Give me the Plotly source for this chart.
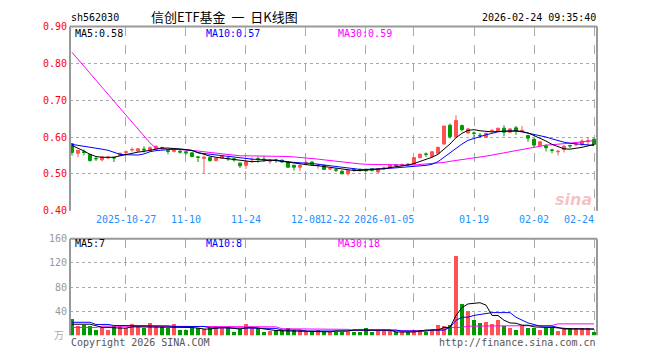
import plotly.graph_objects as go

# ---------------- data ----------------
opens = [0.582,0.556,0.560,0.552,0.542,0.538,0.543,0.545,0.550,0.558,
         0.565,0.562,0.567,0.562,0.568,0.571,0.563,0.561,0.561,0.560,
         0.557,0.546,0.542,0.544,0.536,0.543,0.543,0.541,0.529,0.523,
         0.538,0.541,0.540,0.534,0.538,0.537,0.532,0.523,0.518,0.529,
         0.532,0.522,0.523,0.513,0.511,0.507,0.500,0.512,0.511,0.512,
         0.514,0.505,0.514,0.518,0.524,0.524,0.526,0.526,0.544,0.554,
         0.547,0.556,0.581,0.632,0.601,0.631,0.611,0.611,0.605,0.599,
         0.617,0.615,0.624,0.613,0.625,0.617,0.604,0.594,0.576,0.576,
         0.565,0.560,0.566,0.577,0.579,0.580,0.589,0.594]
highs = [0.584,0.565,0.566,0.555,0.546,0.547,0.548,0.547,0.557,0.563,
         0.572,0.570,0.575,0.575,0.577,0.574,0.566,0.567,0.565,0.562,
         0.559,0.548,0.549,0.546,0.543,0.551,0.548,0.544,0.532,0.535,
         0.545,0.547,0.549,0.540,0.541,0.539,0.533,0.525,0.526,0.536,
         0.534,0.528,0.525,0.517,0.515,0.510,0.510,0.515,0.515,0.514,
         0.516,0.516,0.520,0.525,0.527,0.528,0.529,0.545,0.556,0.558,
         0.562,0.574,0.630,0.636,0.659,0.634,0.625,0.615,0.611,0.612,
         0.621,0.625,0.632,0.624,0.630,0.630,0.606,0.596,0.589,0.580,
         0.568,0.565,0.578,0.579,0.584,0.594,0.600,0.597]
lows = [0.550,0.545,0.550,0.533,0.535,0.534,0.540,0.532,0.548,0.553,
        0.560,0.560,0.558,0.560,0.566,0.565,0.553,0.558,0.555,0.552,
        0.545,0.532,0.500,0.533,0.534,0.541,0.535,0.533,0.516,0.513,
        0.530,0.530,0.532,0.527,0.530,0.530,0.516,0.509,0.508,0.523,
        0.523,0.514,0.510,0.510,0.505,0.500,0.495,0.506,0.506,0.507,
        0.506,0.503,0.510,0.515,0.518,0.519,0.521,0.524,0.542,0.546,
        0.545,0.554,0.579,0.596,0.600,0.615,0.609,0.600,0.597,0.598,
        0.612,0.614,0.602,0.612,0.606,0.613,0.587,0.570,0.575,0.561,
        0.556,0.550,0.558,0.570,0.575,0.575,0.575,0.578]
closes = [0.558,0.564,0.558,0.536,0.541,0.546,0.545,0.543,0.556,0.560,
          0.566,0.568,0.565,0.571,0.575,0.569,0.561,0.566,0.559,0.557,
          0.547,0.545,0.545,0.536,0.542,0.549,0.541,0.538,0.522,0.533,
          0.539,0.540,0.539,0.536,0.537,0.532,0.518,0.518,0.523,0.530,
          0.525,0.523,0.512,0.514,0.510,0.500,0.509,0.511,0.510,0.508,
          0.509,0.514,0.516,0.523,0.523,0.525,0.525,0.544,0.553,0.553,
          0.560,0.572,0.630,0.601,0.645,0.620,0.622,0.610,0.604,0.610,
          0.618,0.624,0.613,0.622,0.617,0.618,0.597,0.578,0.587,0.571,
          0.564,0.561,0.575,0.576,0.580,0.589,0.590,0.580]

ma5 = [0.577,0.570,0.562,0.553,0.547,0.545,0.544,0.545,0.549,0.553,
       0.556,0.559,0.561,0.564,0.568,0.570,0.570,0.569,0.568,0.566,
       0.563,0.558,0.551,0.548,0.545,0.543,0.541,0.539,0.536,0.534,
       0.533,0.534,0.536,0.537,0.536,0.534,0.531,0.528,0.526,0.524,
       0.523,0.522,0.520,0.518,0.515,0.512,0.510,0.509,0.509,0.510,
       0.511,0.512,0.514,0.517,0.519,0.521,0.524,0.528,0.533,0.538,
       0.545,0.553,0.566,0.581,0.598,0.610,0.618,0.620,0.617,0.615,
       0.614,0.615,0.616,0.616,0.617,0.615,0.611,0.604,0.597,0.589,
       0.580,0.573,0.568,0.567,0.569,0.572,0.576,0.580]
ma10 = [0.580,0.577,0.574,0.571,0.569,0.567,0.564,0.558,0.553,0.552,
        0.551,0.551,0.554,0.560,0.563,0.565,0.566,0.567,0.567,0.566,
        0.564,0.557,0.555,0.553,0.551,0.549,0.546,0.544,0.542,0.540,
        0.540,0.539,0.539,0.538,0.537,0.535,0.532,0.531,0.530,0.530,
        0.528,0.526,0.524,0.521,0.520,0.518,0.516,0.514,0.512,0.512,
        0.512,0.513,0.514,0.515,0.516,0.518,0.519,0.520,0.522,0.523,
        0.526,0.533,0.545,0.557,0.570,0.581,0.591,0.597,0.601,0.606,
        0.611,0.614,0.616,0.617,0.616,0.614,0.611,0.608,0.605,0.600,
        0.595,0.590,0.586,0.583,0.581,0.579,0.578,0.577]
ma30 = [0.830,0.811,0.792,0.773,0.755,0.736,0.717,0.698,0.679,0.660,
        0.641,0.622,0.603,0.584,0.570,0.568,0.567,0.567,0.566,0.566,
        0.565,0.562,0.560,0.558,0.556,0.555,0.553,0.551,0.549,0.549,
        0.549,0.548,0.548,0.547,0.547,0.547,0.547,0.546,0.545,0.543,
        0.541,0.540,0.538,0.536,0.534,0.532,0.530,0.528,0.527,0.526,
        0.525,0.525,0.525,0.525,0.524,0.524,0.524,0.524,0.525,0.526,
        0.527,0.529,0.531,0.534,0.536,0.538,0.541,0.543,0.545,0.548,
        0.551,0.554,0.557,0.560,0.563,0.566,0.569,0.572,0.575,0.578,
        0.579,0.580,0.582,0.584,0.585,0.587,0.589,0.590]

volume = [28.0,16.8,18.4,16.8,8.8,14.7,8.8,15.2,18.4,13.1,
          20.0,14.7,13.1,21.6,15.2,14.7,12.0,20.0,8.8,8.8,
          13.1,13.1,10.4,13.1,15.2,14.7,14.7,5.6,10.4,20.0,
          12.0,12.0,5.6,7.2,8.8,8.8,12.0,9.9,8.8,6.7,
          5.6,8.8,5.6,6.7,6.7,6.7,6.7,6.7,6.7,12.0,
          6.7,8.8,8.8,8.8,6.7,5.6,5.6,8.8,8.8,6.7,
          10.1,18.4,16.8,18.4,132.0,52.0,40.8,26.4,21.6,23.2,
          20.0,26.4,15.5,12.0,10.1,16.8,12.0,12.0,8.8,12.0,
          12.0,7.2,13.3,12.0,12.0,12.0,12.0,5.6]
vma5 = [18.4,18.4,18.4,18.4,16.0,13.1,13.1,12.0,12.0,12.0,
        14.0,14.0,14.0,14.0,14.0,14.0,14.0,14.0,14.0,14.0,
        13.0,12.0,10.4,10.4,12.0,13.0,12.5,11.0,10.4,12.5,
        13.1,12.0,10.5,9.5,8.0,7.5,7.2,7.2,7.2,7.0,
        7.0,6.5,6.0,5.8,7.2,7.2,7.2,8.8,8.8,8.8,
        8.8,8.8,8.8,8.8,5.6,5.6,5.6,5.6,7.0,8.8,
        8.8,8.8,13.1,13.1,32.8,46.0,52.0,53.0,54.0,50.0,
        33.0,32.8,25.0,20.5,20.0,16.8,16.8,14.0,13.1,13.1,
        13.1,12.0,10.9,10.9,10.9,10.6,10.4,10.4]
vma10 = [21.6,21.6,21.6,21.6,18.0,18.0,18.0,16.3,16.3,15.5,
         15.5,15.7,15.7,15.7,15.7,15.7,15.7,14.7,14.7,14.7,
         14.7,14.7,14.7,12.5,12.5,12.5,12.5,12.5,12.5,12.5,
         11.5,11.5,11.5,11.5,11.5,8.8,8.8,8.8,8.8,7.2,
         7.2,7.2,7.2,7.2,7.2,7.2,7.2,8.8,8.8,8.8,
         8.8,8.8,8.8,8.8,8.8,7.2,7.2,7.2,7.2,7.2,
         8.8,8.8,8.8,13.1,24.8,30.0,30.0,33.0,34.4,35.0,
         37.6,37.6,37.6,37.6,30.0,25.0,20.5,18.0,15.2,15.2,
         15.2,13.0,10.4,10.4,10.4,10.4,10.4,10.4]
vma30 = [13.1,13.1,13.1,13.1,13.1,15.2,15.2,15.2,15.2,15.2,
         15.2,15.2,15.2,15.2,15.2,15.2,15.2,15.2,15.2,15.2,
         15.2,15.2,15.2,15.2,14.1,14.1,14.1,14.1,14.1,14.1,
         14.1,14.1,14.1,14.1,14.1,10.9,10.9,10.9,10.9,10.9,
         10.9,9.9,9.9,9.9,9.9,9.9,9.9,8.3,8.3,8.3,
         8.3,8.3,8.3,8.3,8.3,7.2,7.2,7.2,7.2,7.2,
         8.8,8.8,8.8,13.1,13.1,13.1,15.2,15.2,15.2,15.2,
         15.2,16.3,16.3,16.3,16.3,16.3,16.3,16.3,16.3,16.3,
         16.3,19.0,19.0,19.0,19.0,19.0,19.0,19.0]

tick_idx = [9, 19, 29, 39, 49, 57, 67, 77, 87]
tick_lab = ["2025-10-27", "11-10", "11-24", "12-08", "12-22",
            "2026-01-05", "01-19", "02-02", "02-24"]
price_ticks = [0.40, 0.50, 0.60, 0.70, 0.80, 0.90]
vol_ticks = [40, 80, 120, 160]

title_code = "sh562030"
title_name = "信创ETF基金\u00a0\u00a0一\u00a0\u00a0日K线图"
title_time = "2026-02-24 09:35:40"
price_ma_labels = ["MA5:0.58", "MA10:0.57", "MA30:0.59"]
vol_ma_labels = ["MA5:7", "MA10:8", "MA30:18"]

# ---------------- styling ----------------
W, H = 660, 360
RED = "#FF5252"
GREEN = "#009A00"
GRID = "#AAAAAA"
FRAME = "#999999"
MONO = "DejaVu Sans Mono, Liberation Mono, monospace"
FS = 10

def px_x(p):
    return p / W

def px_y(p):
    return 1 - p / H

x0, x1 = px_x(70), px_x(597)
py_top, py_bot = px_y(21.3), px_y(211.7)
vy_top, vy_bot = px_y(240.7), px_y(340.7)

idx = list(range(len(closes)))
vol_colors = [RED if c >= o else GREEN for o, c in zip(opens, closes)]

fig = go.Figure()

fig.add_trace(go.Candlestick(
    x=idx, open=opens, high=highs, low=lows, close=closes,
    increasing=dict(line=dict(color=RED, width=1), fillcolor=RED),
    decreasing=dict(line=dict(color=GREEN, width=1), fillcolor=GREEN),
    whiskerwidth=0, xaxis="x", yaxis="y", showlegend=False,
    hoverinfo="skip"))

for arr, col in [(ma30, "#FF00FF"), (ma10, "#0000FF"), (ma5, "#000000")]:
    fig.add_trace(go.Scatter(x=idx, y=arr, mode="lines",
                             line=dict(color=col, width=1),
                             xaxis="x", yaxis="y", showlegend=False,
                             hoverinfo="skip"))

fig.add_trace(go.Bar(x=idx, y=volume, marker=dict(color=vol_colors, line=dict(width=0)),
                     width=0.8, xaxis="x2", yaxis="y2", showlegend=False,
                     hoverinfo="skip"))
for arr, col in [(vma30, "#FF00FF"), (vma10, "#0000FF"), (vma5, "#000000")]:
    fig.add_trace(go.Scatter(x=idx, y=arr, mode="lines",
                             line=dict(color=col, width=1),
                             xaxis="x2", yaxis="y2", showlegend=False,
                             hoverinfo="skip"))

xr = [-0.33, 87.5]
common_x = dict(range=xr, showgrid=True, gridcolor=GRID, griddash="dash",
                gridwidth=1, tickvals=tick_idx, showticklabels=False,
                zeroline=False, showline=False, ticks="",
                rangeslider=dict(visible=False), fixedrange=True)

fig.update_layout(
    width=W, height=H, margin=dict(l=0, r=0, t=0, b=0, pad=0),
    autosize=False,
    paper_bgcolor="white", plot_bgcolor="white",
    bargap=0, showlegend=False,
    xaxis=dict(domain=[x0, x1], anchor="y", **common_x),
    yaxis=dict(domain=[py_bot, py_top], range=[0.40, 0.90],
               tickvals=price_ticks, ticktext=[f"{v:.2f}" for v in price_ticks],
               tickfont=dict(family=MONO, size=FS, color="#FF0000"),
               showgrid=True, gridcolor=GRID, griddash="dot", gridwidth=1,
               zeroline=False, showline=False, ticks="", ticklabelstandoff=2),
    xaxis2=dict(domain=[x0, x1], anchor="y2", **common_x),
    yaxis2=dict(domain=[vy_bot, vy_top], range=[0, 160],
                tickvals=vol_ticks, ticktext=[str(v) for v in vol_ticks],
                tickfont=dict(family=MONO, size=FS, color="#999999"),
                showgrid=True, gridcolor=GRID, griddash="dot", gridwidth=1,
                zeroline=False, showline=False, ticks="", ticklabelstandoff=2),
)

# frames (left, top, right) for both panels
shapes = []
for xref, yref in [("x domain", "y domain"), ("x2 domain", "y2 domain")]:
    shapes.append(dict(type="line", xref=xref, yref=yref, x0=0, x1=0, y0=0, y1=1,
                       line=dict(color=FRAME, width=2)))
    shapes.append(dict(type="line", xref=xref, yref=yref, x0=0, x1=1, y0=1, y1=1,
                       line=dict(color=FRAME, width=2)))
    shapes.append(dict(type="line", xref=xref, yref=yref, x0=1, x1=1, y0=0, y1=1,
                       line=dict(color=FRAME, width=2)))
fig.update_layout(shapes=shapes)

ann = []
# header
ann.append(dict(text=title_code, x=px_x(69), y=px_y(12), xref="paper", yref="paper",
                xanchor="left", yanchor="middle", showarrow=False,
                font=dict(family=MONO, size=FS, color="#000000")))
ann.append(dict(text=title_name, x=px_x(225), y=px_y(11), xref="paper", yref="paper",
                xanchor="center", yanchor="middle", showarrow=False,
                font=dict(family="Noto Sans CJK SC", size=13, color="#000000")))
ann.append(dict(text=title_time, x=px_x(598), y=px_y(12), xref="paper", yref="paper",
                xanchor="right", yanchor="middle", showarrow=False,
                font=dict(family=MONO, size=FS, color="#000000")))
# MA legends
ma_cols = ["#000000", "#0000FF", "#FF00FF"]
ma_x = [73, 204, 336]
for lab, col, xp in zip(price_ma_labels, ma_cols, ma_x):
    ann.append(dict(text=lab, x=px_x(xp), y=px_y(28), xref="paper", yref="paper",
                    xanchor="left", yanchor="middle", showarrow=False,
                    font=dict(family=MONO, size=FS, color=col)))
for lab, col, xp in zip(vol_ma_labels, ma_cols, ma_x):
    ann.append(dict(text=lab, x=px_x(xp), y=px_y(246), xref="paper", yref="paper",
                    xanchor="left", yanchor="middle", showarrow=False,
                    font=dict(family=MONO, size=FS, color=col)))
# x tick labels
anchors = {"12-22": ("right", -62), "2026-01-05": ("right", 2), "02-24": ("right", 2)}
for i, lab in zip(tick_idx, tick_lab):
    xa, xs = anchors.get(lab, ("center", 0))
    ann.append(dict(text=lab, x=i if lab != "12-22" else tick_idx[tick_lab.index("2026-01-05")],
                    y=px_y(221), xref="x", yref="paper",
                    xanchor=xa, xshift=xs, yanchor="middle", showarrow=False,
                    font=dict(family=MONO, size=FS, color="#1E90FF")))
# volume unit
ann.append(dict(text="万", x=px_x(66), y=px_y(340), xref="paper", yref="paper",
                xanchor="right", yanchor="middle", showarrow=False,
                font=dict(family="Noto Sans CJK SC", size=10, color="#AAAAAA")))
# footer
ann.append(dict(text="Copyright 2026 SINA.COM", x=px_x(69), y=px_y(348), xref="paper", yref="paper",
                xanchor="left", yanchor="middle", showarrow=False,
                font=dict(family=MONO, size=FS, color="#555555")))
ann.append(dict(text="http://finance.sina.com.cn", x=px_x(598), y=px_y(348), xref="paper", yref="paper",
                xanchor="right", yanchor="middle", showarrow=False,
                font=dict(family=MONO, size=FS, color="#555555")))
# watermark
ann.append(dict(text="<i><b>sina</b></i>", x=px_x(594), y=px_y(200), xref="paper", yref="paper",
                xanchor="right", yanchor="middle", showarrow=False,
                font=dict(family="DejaVu Sans", size=16, color="rgba(230,120,120,0.45)")))
fig.update_layout(annotations=ann)

fig.write_html("out.html", config={"displayModeBar": False, "responsive": False},
               post_script="document.body.style.margin='0';document.body.style.overflow='hidden';")
